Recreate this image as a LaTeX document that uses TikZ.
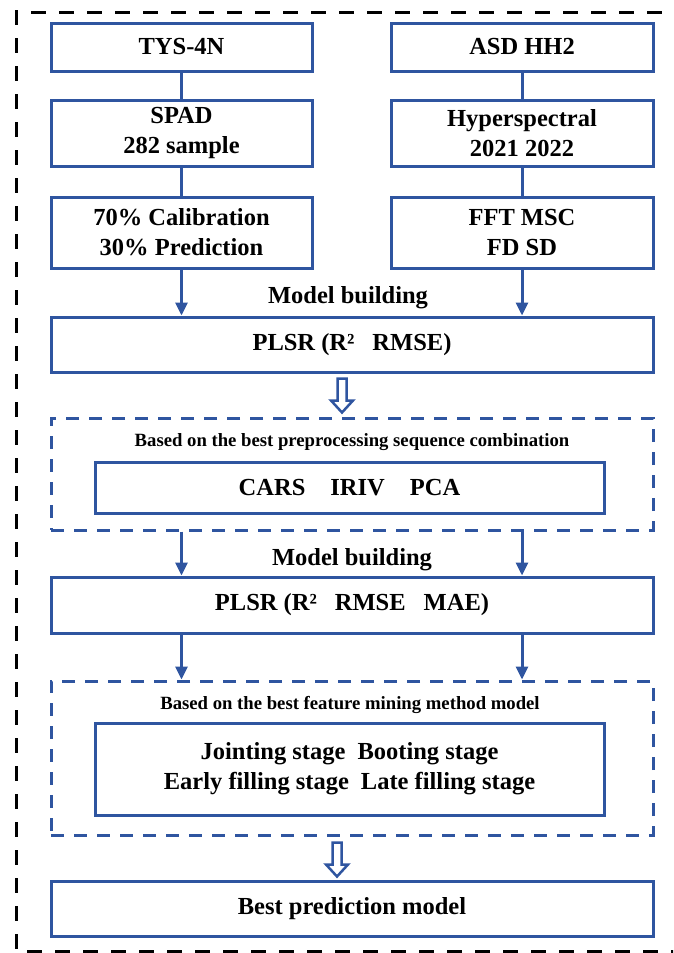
\documentclass[tikz,border=0pt]{standalone}
\usepackage{fontspec}
\setmainfont{Liberation Serif}
\usetikzlibrary{calc,arrows.meta}
\definecolor{bl}{RGB}{47,85,160}
\begin{document}
\begin{tikzpicture}[x=1pt,y=-1pt,
  box/.style={draw=bl, line width=3pt, align=center, inner sep=0pt,
    font=\fontsize{24.5}{30}\selectfont\bfseries},
  dbox/.style={draw=bl, line width=3pt, dash pattern=on 13pt off 10pt, inner sep=0pt},
  conn/.style={draw=bl, line width=3pt},
  arr/.style={conn, -{Triangle[length=13pt,width=12pt]}},
  hollow/.style={draw=bl, line width=2.5pt, fill=white, line join=miter},
  outer/.style={draw=black, line width=3pt, dash pattern=on 15pt off 13pt},
  lab/.style={inner sep=0pt, font=\fontsize{24.5}{30}\selectfont\bfseries},
  small/.style={inner sep=0pt, font=\fontsize{18.7}{22}\selectfont\bfseries}]
\useasboundingbox (0,0) rectangle (673,953);
\clip (0,0) rectangle (673,953);
% outer black dashed frame
\draw[outer] (31,12) -- (700,12);
\draw[outer] (16,10) -- (16,951);
\draw[outer] (27,951) -- (700,951);

% top rows
\node[box, minimum width=261pt, minimum height=48pt] (tys) at (181.5,47) {TYS-4N};
\node[box, minimum width=262pt, minimum height=48pt] (asd) at (522,47) {ASD HH2};
\node[box, minimum width=261pt, minimum height=66pt] (spad) at (181.5,133) {SPAD\\282 sample};
\node[box, minimum width=262pt, minimum height=66pt] (hyp) at (522,133) {Hyperspectral\\2021 2022};
\node[box, minimum width=261pt, minimum height=71pt] (cal) at (181.5,232.5) {70\% Calibration\\30\% Prediction};
\node[box, minimum width=262pt, minimum height=71pt] (fft) at (522,232.5) {FFT MSC\\FD SD};

\draw[conn] (tys) -- (spad);
\draw[conn] (spad) -- (cal);
\draw[conn] (asd) -- (hyp);
\draw[conn] (hyp) -- (fft);

\node[lab] (mb1) at (348,298) {Model building};
\node[box, minimum width=602pt, minimum height=55pt] (plsr1) at (352,344.5) {PLSR (R²\hspace{18pt}RMSE)};
\draw[arr] (cal.south) -- (cal.south |- plsr1.north);
\draw[arr] (fft.south) -- (fft.south |- plsr1.north);

% dashed group 1
\node[dbox, minimum width=602pt, minimum height=112pt] (d1) at (352,474) {};
\node[small] (t1) at (352,442) {Based on the best preprocessing sequence combination};
\node[box, minimum width=509pt, minimum height=51pt] (cars) at (349.5,487.5) {CARS\hspace{25pt}IRIV\hspace{25pt}PCA};

% hollow arrow 1
\path (plsr1.south) ++(-10,5) coordinate (h1s);
\path (d1.north) ++(-10,-4) coordinate (h1e);
\draw[hollow] ($(h1s)+(-4.5,0)$) -- ($(h1e)+(-4.5,-12)$) -- ($(h1e)+(-11,-12)$) -- (h1e)
  -- ($(h1e)+(11,-12)$) -- ($(h1e)+(4.5,-12)$) -- ($(h1s)+(4.5,0)$) -- cycle;

\node[lab] (mb2) at (352,560) {Model building};
\node[box, minimum width=602pt, minimum height=56pt] (plsr2) at (352,605) {PLSR (R²\hspace{18pt}RMSE\hspace{18pt}MAE)};
\draw[arr] (d1.south -| cal.south) -- (plsr2.north -| cal.south);
\draw[arr] (d1.south -| fft.south) -- (plsr2.north -| fft.south);

% dashed group 2
\node[dbox, minimum width=602pt, minimum height=154pt] (d2) at (352,758) {};
\node[small] (t2) at (350,705) {Based on the best feature mining method model};
\node[box, minimum width=509pt, minimum height=92pt] (stg) at (349.5,769)
  {Jointing stage\hspace{12pt}Booting stage\\Early filling stage\hspace{12pt}Late filling stage};
\draw[arr] (plsr2.south -| cal.south) -- (d2.north -| cal.south);
\draw[arr] (plsr2.south -| fft.south) -- (d2.north -| fft.south);

% hollow arrow 2
\node[box, minimum width=602pt, minimum height=55pt] (best) at (352,908.5) {Best prediction model};
\path (d2.south) ++(-15,6) coordinate (h2s);
\path (best.north) ++(-15,-3) coordinate (h2e);
\draw[hollow] ($(h2s)+(-4.5,0)$) -- ($(h2e)+(-4.5,-12)$) -- ($(h2e)+(-11,-12)$) -- (h2e)
  -- ($(h2e)+(11,-12)$) -- ($(h2e)+(4.5,-12)$) -- ($(h2s)+(4.5,0)$) -- cycle;
\end{tikzpicture}
\end{document}
